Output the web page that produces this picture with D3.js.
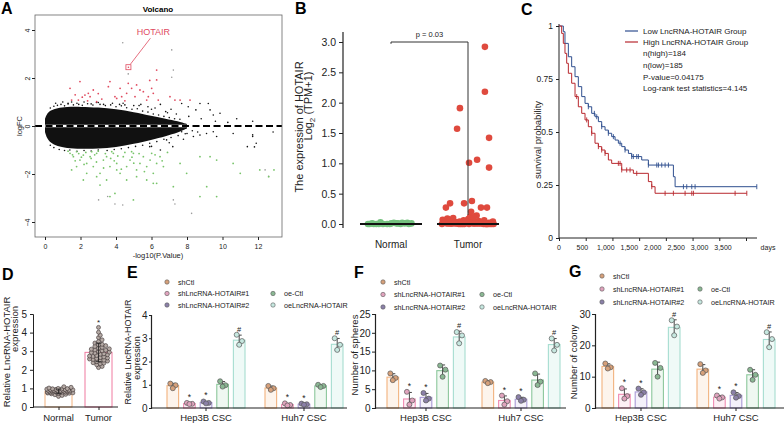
<!DOCTYPE html>
<html>
<head>
<meta charset="utf-8">
<script src="https://cdn.jsdelivr.net/npm/d3@7"></script>
<style>
  body { margin: 0; background: #fff; }
  svg { display: block; font-family: "Liberation Sans", Arial, sans-serif; }
</style>
</head>
<body>
<div id="chart"></div>
<script>
// ---------- A: volcano ----------
// envelope of the dense black cloud (-log10 p, logFC)
var cloudX  = [0, 0.1, 0.3, 0.7, 1.2, 2.0, 3.0, 4.0, 5.0, 6.0, 6.8, 7.5, 8.0]
var cloudHi = [0.3, 0.5, 0.65, 0.75, 0.8, 0.8, 0.78, 0.7, 0.58, 0.42, 0.3, 0.2, 0.08]
var cloudLo = [-0.25, -0.5, -0.7, -0.85, -0.92, -0.95, -0.95, -0.88, -0.75, -0.58, -0.42, -0.28, -0.1]
var upPts = [[1.41,1.57],[1.5,1.08],[1.88,1.08],[1.97,1.85],[2.25,1.29],[2.44,1.36],[2.54,1.22],[2.72,1.5],[2.91,1.01],[3.57,1.64],[3.66,1.85],[3.94,1.22],[4.04,1.15],[4.23,1.57],[4.32,1.22],[4.6,1.36],[4.69,1.78],[4.88,1.57],[5.07,1.22],[5.16,1.71],[5.35,1.5],[5.54,1.43],[5.73,1.08],[5.82,1.22],[6.01,1.57],[6.1,1.36],[6.29,1.92],[6.29,2.33],[6.38,1.08],[7.04,1.22],[7.32,1.08],[7.61,1.08],[8.17,1.08],[2.1,1.2],[3.2,1.12],[3.0,1.35],[1.7,1.3],[4.5,1.05],[5.9,1.9],[2.4,1.05]]
var downPts = [[1.41,-1.14],[1.6,-1.28],[1.78,-1.07],[1.97,-1.42],[2.16,-1.21],[2.35,-1.56],[2.54,-1.28],[2.72,-1.69],[2.91,-1.14],[3.1,-1.97],[3.29,-1.42],[3.47,-1.28],[3.66,-1.69],[3.85,-1.14],[4.04,-1.56],[4.23,-1.97],[4.41,-1.28],[4.6,-1.69],[4.79,-1.42],[4.98,-1.14],[5.16,-1.83],[5.35,-1.56],[5.54,-1.28],[5.73,-1.69],[5.92,-1.42],[6.1,-1.97],[6.29,-1.56],[6.48,-1.28],[6.67,-1.69],[1.78,-1.69],[2.35,-1.97],[2.91,-2.11],[3.47,-2.25],[4.04,-1.83],[4.6,-2.25],[5.16,-2.11],[5.73,-2.25],[6.29,-2.39],[3.1,-2.46],[2.16,-2.25],[1.5,-1.83],[2.63,-1.07],[3.76,-1.07],[4.88,-1.07],[6.01,-1.14],[7.61,-1.56],[7.98,-1.97],[8.73,-1.28],[9.3,-1.28],[9.67,-1.42],[10.6,-1.56],[11.0,-1.97],[12.1,-1.83],[12.9,-1.83],[12.6,-2.11],[6.1,-2.39],[7.23,-2.53],[8.73,-2.94],[9.11,-2.53],[9.67,-2.94],[3.94,-2.81],[4.98,-3.08],[3.66,-2.94],[1.3,-1.05],[1.55,-1.2],[1.9,-1.15],[2.05,-1.3],[2.3,-1.1],[2.6,-1.35],[2.8,-1.2],[3.0,-1.05],[3.4,-1.15],[3.7,-1.35],[4.1,-1.25],[4.5,-1.1],[4.9,-1.3],[5.3,-1.15],[1.7,-1.45],[2.2,-1.6],[2.9,-1.5],[3.3,-1.75],[3.9,-1.45],[4.3,-1.8],[5.0,-1.55],[5.6,-1.9],[6.2,-1.2],[6.6,-1.45],[6.9,-1.1]]
var flatPts = [[1.0,1.0],[1.3,0.95],[1.8,0.95],[2.2,1.0],[2.6,0.92],[3.0,0.98],[3.3,0.9],[3.8,0.95],[4.2,0.9],[4.5,0.88],[5.0,0.85],[5.4,0.9],[5.8,0.8],[6.2,0.75],[6.5,0.9],[6.8,0.6],[7.1,0.7],[7.4,0.5],[7.7,0.94],[8.07,0.8],[8.5,0.67],[8.73,0.94],[9.2,0.94],[9.3,0.67],[9.48,0.46],[9.86,0.53],[8.1,0.4],[8.8,0.3],[9.6,0.2],[10.3,0.15],[10.8,0.3],[11.7,0.2],[7.7,-0.24],[8.0,-0.31],[8.36,-0.44],[8.73,-0.38],[9.1,-0.31],[9.48,-0.24],[9.67,-0.44],[10.6,-0.31],[11.4,-0.86],[11.7,-0.44],[11.9,-0.72],[12.85,-0.25],[6.85,-0.58],[7.2,-0.86],[6.5,-1.0],[5.9,-0.86],[11.8,-0.87],[11.7,-0.37],
  [0.3,0.75],[0.5,0.82],[0.7,0.86],[0.9,0.9],[1.1,0.84],[1.3,0.92],[1.6,0.88],[1.9,0.9],[2.1,0.86],[2.4,0.93],[2.7,0.87],[3.1,0.9],[3.4,0.85],[3.7,0.88],[4.0,0.8],[4.3,0.84],[4.6,0.76],[4.9,0.7],[5.2,0.72],[5.5,0.62],[5.8,0.58],[6.1,0.5],[6.4,0.46],[6.7,0.4],[7.0,0.35],[7.3,0.3],[7.6,0.28],[0.6,0.95],[1.5,1.0],[2.9,0.98],[4.4,0.95],[5.3,0.85],[6.0,0.7],[6.9,0.55],
  [0.3,-0.8],[0.5,-0.9],[0.8,-0.98],[1.1,-1.02],[1.4,-1.0],[1.8,-1.05],[2.2,-1.02],[2.6,-1.04],[3.0,-1.0],[3.5,-1.02],[3.9,-0.98],[4.3,-0.95],[4.7,-0.9],[5.1,-0.85],[5.5,-0.8],[5.9,-0.72],[6.3,-0.65],[6.7,-0.55],[7.1,-0.48],[7.5,-0.4],[7.9,-0.32],[8.3,-0.2],[6.0,-0.85],[7.0,-0.7],[7.8,-0.55],[8.6,-0.25]]
var greyPts = [[4.38,3.47],[7.14,3.17],[7.23,2.33],[7.14,2.03],[4.69,2.17],[3.02,-3.08],[3.53,-2.94],[3.94,-3.25],[4.38,-3.29],[7.23,-3.08],[7.32,-3.25],[8.26,-3.64],[12.4,-1.83],[12.6,-2.1]]
var hotair = [4.7, 2.45]

// ---------- B: TCGA expression ----------
var bGroups = ['Normal', 'Tumor']
var bNormal = [0.00,0.01,0.00,0.02,0.00,0.01,0.00,0.00,0.01,0.02,0.00,0.01,0.00,0.00,0.01,0.03,0.00,0.01,0.00,0.02]
var bTumorLow = [0.00,0.01,0.02,0.00,0.03,0.01,0.05,0.00,0.02,0.04,0.01,0.00,0.06,0.02,0.01,0.03,0.00,0.08,0.01,0.02,0.00,0.04,0.01,0.10,0.00,0.02,0.05,0.01,0.03,0.00,0.12,0.01,0.02,0.00,0.07,0.03,0.01,0.00,0.02,0.09,0.01,0.04,0.00,0.02,0.01,0.06,0.00,0.03,0.14,0.01,0.02,0.00,0.05,0.01,0.03,0.00,0.11,0.02,0.01,0.04]
// [jitter (-1..1), value]
var bTumorHigh = [[0.65,2.92],[0.65,2.18],[-0.31,1.91],[-0.42,1.57],[0.81,1.42],[0.35,1.06],[0.04,1.01],[0.81,0.93],[0.15,0.38],[-0.69,0.34],[-0.15,0.34],[-0.85,0.27],[0.5,0.27],[0.73,0.27],[0.12,0.2]]
var bPvalue = 'p = 0.03'

// ---------- C: Kaplan-Meier ----------
var lowT  = [0,81,112,175,237,300,362,425,487,549,612,674,737,799,862,924,986,1049,1111,1174,1236,1299,1361,1548,1673,2141,2173,3702]
var lowS  = [1,0.973,0.918,0.855,0.808,0.761,0.714,0.667,0.635,0.619,0.588,0.572,0.549,0.525,0.509,0.494,0.478,0.462,0.447,0.431,0.415,0.399,0.384,0.368,0.344,0.289,0.242,0.242]
var highT = [0,50,81,112,144,175,237,300,362,425,487,549,612,674,737,799,862,924,986,1174,1392,1673,1736,1798,3515]
var highS = [1,0.965,0.918,0.871,0.824,0.777,0.73,0.667,0.619,0.588,0.557,0.525,0.494,0.447,0.431,0.415,0.399,0.368,0.352,0.321,0.305,0.266,0.242,0.211,0.211]
var lowCensor  = [549,662,706,799,924,1018,1143,1236,1361,1392,1455,1486,1673,1830,1861,1923,1986,2048,2329,2391,2485,2547,3702]
var highCensor = [331,518,612,737,799,862,1111,1143,1174,1267,1330,1455,1736,1986,2141,2360,2485,2516,3296,3515]
var kmTicks = [0,500,1000,1500,2000,2500,3000,3500]
var kmLegend = ['Low LncRNA-HOTAIR Group','High LncRNA-HOTAIR Group']
var kmStats = ['n(high)=184','n(low)=185','P-value=0.04175','Log-rank test statistics=4.145']

// ---------- D: qPCR tissue ----------
var dNormal = [0.62,0.71,0.75,0.78,0.80,0.83,0.86,0.88,0.90,0.93,0.95,0.98,1.02,1.06,0.73,0.77,0.79,0.82,0.85,0.87,0.91,0.94,0.97,1.00,0.68,0.74,0.81,0.84,0.89,0.92,0.96,0.99,1.09,0.57,0.66,0.76,0.90,0.86,0.80,0.88,0.84,0.79]
var dTumor = [2.12,2.18,2.27,2.33,2.38,2.44,2.47,2.52,2.56,2.61,2.64,2.69,2.72,2.77,2.81,2.86,2.90,2.93,2.98,3.02,3.07,3.11,3.16,3.21,3.26,3.30,3.37,3.44,3.52,3.61,3.73,3.86,4.02,4.28,2.36,2.58,2.74,2.95,3.13,3.34,2.66,2.84,3.05,2.49]

// ---------- E/F/G: CSC assays ----------
var cellLines = ['Hep3B CSC', 'Huh7 CSC']
var groupNames = ['shCtl', 'shLncRNA-HOTAIR#1', 'shLncRNA-HOTAIR#2', 'oe-Ctl', 'oeLncRNA-HOTAIR']
var groupMarks = ['', '*', '*', '', '#']
var exprHep3B = [[1.05,0.98,0.85],[0.22,0.18,0.17],[0.28,0.22,0.2],[1.15,0.98,0.92],[3.15,2.88,2.72]]
var exprHuh7  = [[0.95,0.85,0.78],[0.2,0.13,0.11],[0.19,0.16,0.14],[1.0,0.95,0.9],[3.0,2.72,2.5]]
var sphHep3B  = [[9.2,8.0,7.4],[4.3,2.0,0.9],[4.0,2.5,2.0],[11.3,10.2,8.3],[20.2,19.3,17.2]]
var sphHuh7   = [[7.2,6.9,6.6],[3.3,1.8,0.9],[2.9,2.2,1.9],[9.2,7.0,6.1],[18.5,16.8,15.3]]
var colHep3B  = [[14.2,13.0,12.6],[6.3,3.8,3.0],[6.2,5.0,4.2],[14.4,12.8,10.0],[28.0,26.0,23.2]]
var colHuh7   = [[14.0,12.0,11.2],[4.0,3.4,3.0],[5.0,3.8,3.3],[12.2,10.6,9.0],[24.2,22.0,19.4]]

var groupColors = ['#f2b27e', '#f08db3', '#a99ad6', '#8cc79b', '#a6ddd0']
var groupFills  = ['#fdf4ec', '#fdeff5', '#f4f1fa', '#eff8f1', '#effaf7']
var dotFills    = ['#d6a07a', '#e0a3bd', '#8b80a8', '#8ab893', '#c6e8e0']

var svg = d3.select('#chart').append('svg').attr('width', 784).attr('height', 425)

function letter(t, x, y){
  svg.append('text').attr('x', x).attr('y', y).attr('font-size', 16).attr('font-weight', 'bold').text(t)
}
letter('A', 1, 14); letter('B', 295, 14); letter('C', 521, 15)
letter('D', 2, 280); letter('E', 127, 278); letter('F', 354, 278); letter('G', 569, 277)

function rotText(g, x, y, txt, size){
  return g.append('text').attr('transform', 'translate(' + x + ',' + y + ') rotate(-90)')
    .attr('text-anchor', 'middle').attr('font-size', size).attr('fill', '#222').text(txt)
}
function styleAxis(sel, size){
  sel.selectAll('text').attr('font-size', size).attr('fill', '#222').attr('font-family', '"Liberation Sans", Arial, sans-serif')
  sel.selectAll('line').attr('stroke', '#222')
  sel.selectAll('path').attr('stroke', '#222')
}

// ===== A =====
var gA = svg.append('g')
var ax = d3.scaleLinear().domain([0, 12]).range([45, 258])
var ay = d3.scaleLinear().domain([-4, 4]).range([222, 30])
gA.append('text').attr('x', 158).attr('y', 11.5).attr('text-anchor', 'middle').attr('font-size', 8).attr('font-weight', 'bold').text('Volcano')
var cloud = cloudX.map(function(d, i){ return {x: d, hi: cloudHi[i], lo: cloudLo[i]} })
gA.append('path').datum(cloud)
  .attr('d', d3.area().x(function(d){ return ax(d.x) }).y0(function(d){ return ay(d.lo) }).y1(function(d){ return ay(d.hi) }).curve(d3.curveBasis))
  .attr('fill', '#111')
function pts(data, color, r){
  gA.selectAll(null).data(data).enter().append('circle')
    .attr('cx', function(d){ return ax(d[0]) }).attr('cy', function(d){ return ay(d[1]) })
    .attr('r', r).attr('fill', color)
}
pts(flatPts, '#111', 0.8)
pts(greyPts, '#9a9a9a', 0.8)
pts(upPts, '#e04a5f', 0.9)
pts(downPts, '#78c46a', 0.9)
gA.append('line').attr('x1', 45).attr('x2', 282).attr('y1', ay(0)).attr('y2', ay(0)).attr('stroke', '#fff').attr('stroke-width', 2.6)
gA.append('line').attr('x1', 35).attr('x2', 282).attr('y1', ay(0)).attr('y2', ay(0))
  .attr('stroke', '#000').attr('stroke-width', 2).attr('stroke-dasharray', '7,3.5')
gA.append('rect').attr('x', 35).attr('y', 15).attr('width', 247).attr('height', 222)
  .attr('fill', 'none').attr('stroke', '#666').attr('stroke-width', 0.8)
// HOTAIR annotation
gA.append('rect').attr('x', ax(hotair[0]) - 2.5).attr('y', ay(hotair[1]) - 2.5).attr('width', 5).attr('height', 5)
  .attr('fill', 'none').attr('stroke', '#e04a5f').attr('stroke-width', 0.8)
gA.append('circle').attr('cx', ax(hotair[0])).attr('cy', ay(hotair[1])).attr('r', 0.8).attr('fill', '#e04a5f')
gA.append('line').attr('x1', ax(hotair[0]) + 2).attr('y1', ay(hotair[1]) - 3).attr('x2', ax(hotair[0]) + 22).attr('y2', ay(hotair[1]) - 29)
  .attr('stroke', '#e04a5f').attr('stroke-width', 0.8)
gA.append('text').attr('x', ax(hotair[0]) + 25).attr('y', ay(hotair[1]) - 32).attr('text-anchor', 'middle')
  .attr('font-size', 9).attr('fill', '#e04a5f').text('HOTAIR')
var yA = gA.append('g').attr('transform', 'translate(35,0)').call(d3.axisLeft(ay).tickValues([-4, -2, 0, 2, 4]).tickSize(3))
yA.select('.domain').remove()
styleAxis(yA, 7)
yA.selectAll('text').attr('x', 0).attr('dy', 0).attr('text-anchor', 'middle').attr('transform', 'translate(-5.5,0) rotate(-90)')
var xA = gA.append('g').attr('transform', 'translate(0,237)').call(d3.axisBottom(ax).tickValues([0, 2, 4, 6, 8, 10, 12]).tickSize(3).tickPadding(4))
xA.select('.domain').remove()
styleAxis(xA, 7)
gA.append('text').attr('x', 158).attr('y', 258).attr('text-anchor', 'middle').attr('font-size', 7.5).attr('fill', '#222').text('-log10(P.Value)')
rotText(gA, 22, 126, 'logFC', 7.5)

// ===== B =====
var gB = svg.append('g')
var by = d3.scaleLinear().domain([0, 3]).range([224, 42])
var bx = d3.scalePoint().domain(bGroups).range([391, 468])
var yB = gB.append('g').attr('transform', 'translate(343,0)').call(d3.axisLeft(by).tickValues([0, 0.5, 1, 1.5, 2, 2.5, 3]).tickFormat(d3.format('.1f')).tickSize(4))
yB.select('.domain').remove()
styleAxis(yB, 10.5)
gB.append('line').attr('x1', 343).attr('x2', 343).attr('y1', 32).attr('y2', 228).attr('stroke', '#222').attr('stroke-width', 1.2)
var tl = gB.append('text').attr('transform', 'translate(303,127) rotate(-90)').attr('text-anchor', 'middle').attr('font-size', 11).attr('fill', '#222')
tl.text('The expression of HOTAIR')
var t2 = gB.append('text').attr('transform', 'translate(312,106) rotate(-90)').attr('text-anchor', 'middle').attr('font-size', 11).attr('fill', '#222')
t2.append('tspan').text('Log')
t2.append('tspan').attr('font-size', 8).attr('dy', 3).text('2')
t2.append('tspan').attr('dy', -3).text(' (TPM+1)')
bGroups.forEach(function(g){
  gB.append('text').attr('x', bx(g)).attr('y', 248).attr('text-anchor', 'middle').attr('font-size', 10).attr('fill', '#222').text(g)
})
gB.selectAll(null).data(bNormal).enter().append('circle')
  .attr('cx', function(d, i){ return bx('Normal') + ((i * 0.618034) % 1 - 0.5) * 46 })
  .attr('cy', function(d){ return by(d) }).attr('r', 3.3).attr('fill', '#74c27e')
gB.selectAll(null).data(bTumorLow).enter().append('circle')
  .attr('cx', function(d, i){ return bx('Tumor') + ((i * 0.618034) % 1 - 0.5) * 52 })
  .attr('cy', function(d){ return by(d) }).attr('r', 3.3).attr('fill', '#df4a3e')
gB.selectAll(null).data(bTumorHigh).enter().append('circle')
  .attr('cx', function(d){ return bx('Tumor') + d[0] * 26 })
  .attr('cy', function(d){ return by(d[1]) }).attr('r', 3.3).attr('fill', '#df4a3e')
bGroups.forEach(function(g){
  gB.append('line').attr('x1', bx(g) - 31).attr('x2', bx(g) + 31).attr('y1', by(0)).attr('y2', by(0)).attr('stroke', '#111').attr('stroke-width', 2)
})
gB.append('path').attr('d', 'M' + bx('Normal') + ',' + by(2.97) + 'V' + by(3) + 'H' + bx('Tumor') + 'V' + by(0.15))
  .attr('fill', 'none').attr('stroke', '#333').attr('stroke-width', 1)
gB.append('text').attr('x', (bx('Normal') + bx('Tumor')) / 2).attr('y', 37).attr('text-anchor', 'middle').attr('font-size', 7.5).attr('fill', '#222').text(bPvalue)

// ===== C =====
var gC = svg.append('g')
var cx = d3.scaleLinear().domain([0, 3500]).range([559, 746])
var cxLab = d3.scaleLinear().domain([0, 3500]).range([559, 723])
var cy = d3.scaleLinear().domain([0, 1]).range([238, 26])
var xC = gC.append('g').attr('transform', 'translate(0,238)').call(d3.axisBottom(cx).tickValues(kmTicks).tickFormat('').tickSize(3))
xC.select('.domain').remove()
styleAxis(xC, 7)
gC.append('line').attr('x1', 559).attr('x2', 757).attr('y1', 238).attr('y2', 238).attr('stroke', '#222')
kmTicks.forEach(function(t){
  gC.append('text').attr('x', cxLab(t)).attr('y', 250).attr('text-anchor', 'middle').attr('font-size', 7).attr('fill', '#222').text(d3.format(',')(t))
})
gC.append('text').attr('x', 768).attr('y', 250).attr('text-anchor', 'middle').attr('font-size', 7).attr('fill', '#222').text('days')
var yC = gC.append('g').attr('transform', 'translate(559,0)').call(d3.axisLeft(cy).tickValues([0, 0.25, 0.5, 0.75, 1]).tickFormat(function(d){ return String(d) }).tickSize(3))
yC.select('.domain').remove()
styleAxis(yC, 8.5)
gC.append('line').attr('x1', 559).attr('x2', 559).attr('y1', 24).attr('y2', 238).attr('stroke', '#222')
rotText(gC, 541, 140, 'survival probability', 9.5)
function km(T, S, cens, color){
  var data = T.map(function(t, i){ return [t, S[i]] })
  gC.append('path').datum(data).attr('d', d3.line().x(function(d){ return cx(d[0]) }).y(function(d){ return cy(d[1]) }).curve(d3.curveStepAfter))
    .attr('fill', 'none').attr('stroke', color).attr('stroke-width', 1)
  cens.forEach(function(t){
    var s = S[Math.max(0, d3.bisectRight(T, t) - 1)]
    gC.append('line').attr('x1', cx(t)).attr('x2', cx(t)).attr('y1', cy(s) - 2.5).attr('y2', cy(s) + 2.5).attr('stroke', color).attr('stroke-width', 0.9)
  })
}
km(lowT, lowS, lowCensor, '#2f4f8f')
km(highT, highS, highCensor, '#b8282e')
var legC = [['#2f4f8f', kmLegend[0]], ['#b8282e', kmLegend[1]]]
legC.forEach(function(d, i){
  var y = 31 + i * 11
  gC.append('line').attr('x1', 625).attr('x2', 638).attr('y1', y).attr('y2', y).attr('stroke', d[0]).attr('stroke-width', 1.2)
  gC.append('text').attr('x', 643).attr('y', y + 3).attr('font-size', 8).attr('fill', '#222').text(d[1])
})
kmStats.forEach(function(s, i){
  gC.append('text').attr('x', 643).attr('y', [56, 68, 80, 91][i]).attr('font-size', 8).attr('fill', '#222').text(s)
})

// ===== D =====
var gD = svg.append('g')
var dy = d3.scaleLinear().domain([0, 5]).range([407, 314])
var dx = d3.scalePoint().domain(bGroups).range([58.5, 98.5])
function swarm(vals, yS, c, r){
  var out = []
  vals.slice().sort(d3.ascending).forEach(function(v, j){
    var py = yS(v), px = null
    for (var k = 0; k < 16; k++){
      var off = (k % 2 ? 1 : -1) * Math.ceil(k / 2) * r * 0.9
      var ok = out.every(function(p){ var a = p.x - (c + off), b = p.y - py; return a * a + b * b >= r * r * 2.2 })
      if (ok){ px = c + off; break }
    }
    if (px === null) px = c + ((j * 0.618034) % 1 - 0.5) * 24
    out.push({x: px, y: py})
  })
  return out
}
var dSets = [dNormal, dTumor], dCols = ['#f2b27e', '#f07ba0']
bGroups.forEach(function(g, i){
  var vals = dSets[i], m = d3.mean(vals), sd = d3.deviation(vals)
  gD.append('rect').attr('x', dx(g) - 13.5).attr('y', dy(m)).attr('width', 27).attr('height', dy(0) - dy(m))
    .attr('fill', '#fff').attr('stroke', dCols[i]).attr('stroke-width', 1)
  gD.selectAll(null).data(swarm(vals, dy, dx(g), 2)).enter().append('circle')
    .attr('cx', function(d){ return d.x }).attr('cy', function(d){ return d.y }).attr('r', 2)
    .attr('fill', '#b5aaa5').attr('stroke', '#3a3030').attr('stroke-width', 0.6)
  gD.append('path').attr('d', 'M' + (dx(g) - 3) + ',' + dy(m + sd) + 'H' + (dx(g) + 3) + 'M' + dx(g) + ',' + dy(m + sd) + 'V' + dy(m - sd) + 'M' + (dx(g) - 3) + ',' + dy(m - sd) + 'H' + (dx(g) + 3))
    .attr('stroke', '#222').attr('fill', 'none').attr('stroke-width', 0.8)
  gD.append('text').attr('x', dx(g)).attr('y', 421).attr('text-anchor', 'middle').attr('font-size', 9.5).attr('fill', '#222').text(g)
})
gD.append('text').attr('x', dx('Tumor')).attr('y', dy(d3.max(dTumor)) - 2).attr('text-anchor', 'middle').attr('font-size', 8).attr('fill', '#222').text('*')
var yD = gD.append('g').attr('transform', 'translate(33,0)').call(d3.axisLeft(dy).ticks(5).tickSize(3))
styleAxis(yD, 10)
var xD = gD.append('g').attr('transform', 'translate(0,407)').call(d3.axisBottom(dx).tickSize(3).tickFormat(''))
xD.select('.domain').attr('d', 'M33,0H118')
styleAxis(xD, 9)
rotText(gD, 10, 352, 'Relative LncRNA-HOTAIR', 9.5)
rotText(gD, 18, 329, 'expression', 9.5)

// ===== E/F/G =====
function barPanel(cfg){
  var g = svg.append('g')
  var y = d3.scaleLinear().domain([0, cfg.max]).range([408, cfg.top])
  var x0 = d3.scaleBand().domain(cellLines).range(cfg.band).paddingInner(cfg.pad)
  var x1 = d3.scaleBand().domain(groupNames).range([0, x0.bandwidth()]).paddingInner(0.3)
  var offs = [-2.5, 2.8, 0]
  cellLines.forEach(function(cl, ci){
    cfg.data[ci].forEach(function(reps, gi){
      var m = d3.mean(reps), sd = d3.deviation(reps)
      var bx0 = x0(cl) + x1(groupNames[gi]), bw = x1.bandwidth(), c = bx0 + bw / 2
      g.append('rect').attr('x', bx0).attr('y', y(m)).attr('width', bw).attr('height', y(0) - y(m))
        .attr('fill', groupFills[gi]).attr('stroke', groupColors[gi]).attr('stroke-width', 1.1)
      g.append('path').attr('d', 'M' + (c - 2.5) + ',' + y(m + sd) + 'H' + (c + 2.5) + 'M' + c + ',' + y(m + sd) + 'V' + y(m - sd) + 'M' + (c - 2.5) + ',' + y(m - sd) + 'H' + (c + 2.5))
        .attr('stroke', '#333').attr('fill', 'none').attr('stroke-width', 0.9)
      g.selectAll(null).data(reps).enter().append('circle')
        .attr('cx', function(d, k){ return c + offs[k] }).attr('cy', function(d){ return y(d) }).attr('r', 2.5)
        .attr('fill', dotFills[gi]).attr('stroke', '#5a5a5a').attr('stroke-width', 0.7)
      if (groupMarks[gi]) {
        g.append('text').attr('x', c).attr('y', y(Math.max(m + sd, d3.max(reps))) - 3).attr('text-anchor', 'middle')
          .attr('font-size', groupMarks[gi] === '*' ? 8.5 : 7.5).attr('fill', '#222').text(groupMarks[gi])
      }
    })
    g.append('text').attr('x', x0(cl) + x0.bandwidth() / 2).attr('y', 421).attr('text-anchor', 'middle').attr('font-size', 9.5).attr('fill', '#222').text(cl)
    g.append('line').attr('x1', x0(cl) + x0.bandwidth() / 2).attr('x2', x0(cl) + x0.bandwidth() / 2).attr('y1', 408).attr('y2', 411).attr('stroke', '#222')
  })
  g.append('line').attr('x1', cfg.x0).attr('x2', cfg.x1).attr('y1', 408).attr('y2', 408).attr('stroke', '#222').attr('stroke-width', 1.2)
  var ya = g.append('g').attr('transform', 'translate(' + cfg.x0 + ',0)')
    .call(d3.axisLeft(y).tickValues(cfg.ticks).tickFormat(d3.format('d')).tickSize(cfg.tick).tickPadding(1.5))
  styleAxis(ya, 10)
  ya.select('.domain').attr('stroke-width', 1.2)
  cfg.title.forEach(function(t, i){ rotText(g, cfg.titleX[i], cfg.titleY[i], t, cfg.titleSize) })
  var pos = [[0, 0], [1, 0], [2, 0], [1, 1], [2, 1]]
  groupNames.forEach(function(n, i){
    var lx = pos[i][1] ? cfg.leg[1] : cfg.leg[0], ly = cfg.leg[2] + pos[i][0] * cfg.leg[3]
    g.append('circle').attr('cx', lx).attr('cy', ly).attr('r', 2.2).attr('fill', dotFills[i]).attr('stroke', '#5a5a5a').attr('stroke-width', 0.6)
    g.append('text').attr('x', lx + 11).attr('y', ly + 2.6).attr('font-size', 7.2).attr('fill', '#222').text(n)
  })
}
barPanel({x0: 151, x1: 347, band: [167, 343], pad: 0.204, max: 4, top: 315, ticks: [0, 1, 2, 3, 4], tick: 2,
  data: [exprHep3B, exprHuh7], title: ['Relative LncRNA-HOTAIR', 'expression'], titleX: [131, 139.5], titleY: [352, 358], titleSize: 9,
  leg: [167, 273, 282, 11.5]})
barPanel({x0: 375, x1: 566, band: [387, 560], pad: 0.179, max: 25, top: 314, ticks: [0, 5, 10, 15, 20, 25], tick: 3,
  data: [sphHep3B, sphHuh7], title: ['Number of spheres'], titleX: [358], titleY: [355], titleSize: 9.5,
  leg: [383, 482, 282, 12.5]})
barPanel({x0: 595, x1: 784, band: [602, 775], pad: 0.179, max: 30, top: 314, ticks: [0, 10, 20, 30], tick: 3,
  data: [colHep3B, colHuh7], title: ['Number of colony'], titleX: [577], titleY: [362], titleSize: 9.5,
  leg: [602, 700, 276, 13]})
</script>
</body>
</html>
